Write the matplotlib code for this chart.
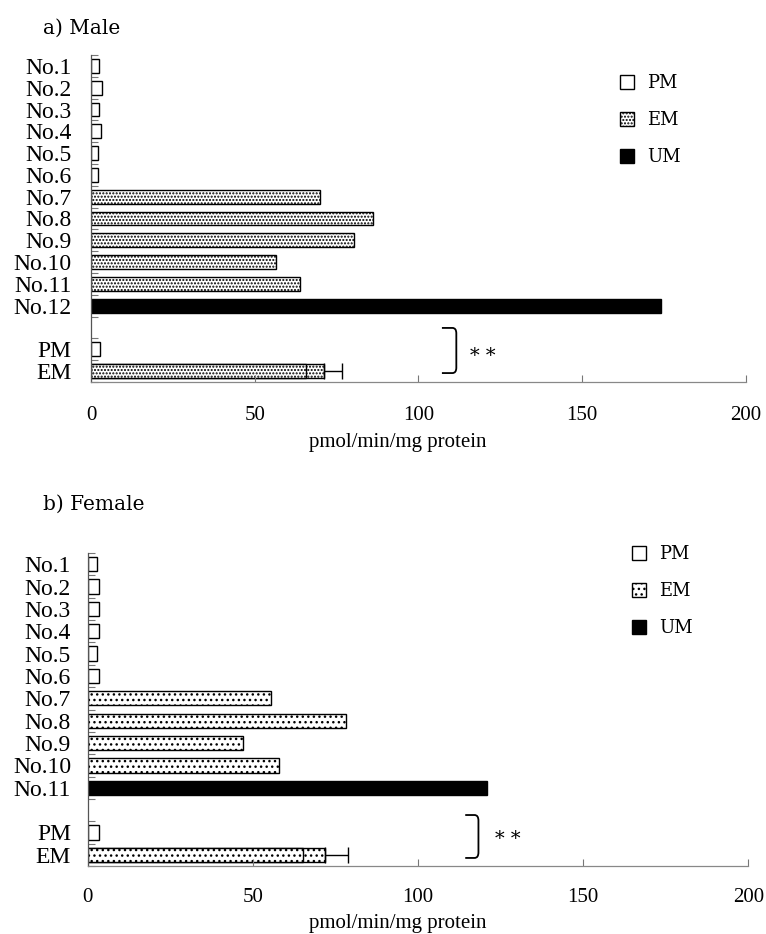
import matplotlib
matplotlib.use("Agg")
import matplotlib.pyplot as plt
import matplotlib.patches as mpatches
from matplotlib.path import Path
import numpy as np

# ---------------- data ----------------
male_labels = ["No.1", "No.2", "No.3", "No.4", "No.5", "No.6", "No.7", "No.8",
               "No.9", "No.10", "No.11", "No.12", "", "PM", "EM"]
male_values = [2.5, 3.5, 2.5, 3.0, 2.0, 2.0, 70.0, 86.0, 80.2, 56.4, 63.7, 174.0]
male_groups = ["PM", "PM", "PM", "PM", "PM", "PM", "EM", "EM", "EM", "EM", "EM", "UM"]
male_pm_mean = 2.7
male_em_mean = 71.3
male_em_inner = 65.7
male_em_err = 5.4

female_labels = ["No.1", "No.2", "No.3", "No.4", "No.5", "No.6", "No.7", "No.8",
                 "No.9", "No.10", "No.11", "", "PM", "EM"]
female_values = [2.7, 3.5, 3.5, 3.5, 2.7, 3.5, 55.5, 78.2, 47.0, 57.8, 121.0]
female_groups = ["PM", "PM", "PM", "PM", "PM", "PM", "EM", "EM", "EM", "EM", "UM"]
female_pm_mean = 3.3
female_em_mean = 71.7
female_em_inner = 65.3
female_em_err = 7.0

xticks = [0, 50, 100, 150, 200]
xlabel = "pmol/min/mg protein"
legend_labels = ["PM", "EM", "UM"]

W, H = 766, 934
fig = plt.figure(figsize=(W / 100, H / 100), dpi=100)

SERIF = ["Liberation Serif", "DejaVu Serif"]
TSERIF = ["DejaVu Serif"]


def px_axes(l, r, t, b):
    return fig.add_axes([l / W, 1 - b / H, (r - l) / W, (b - t) / H])


def style(group, hatch):
    if group == "PM":
        return dict(facecolor="white", edgecolor="black", hatch=None)
    if group == "EM":
        return dict(facecolor="white", edgecolor="black", hatch=hatch)
    return dict(facecolor="black", edgecolor="black", hatch=None)


def bracket(ax, x0, x1, yt, yb, d=1.2, dy=0.25):
    verts = [(x0, yt), (x1 - d, yt), (x1, yt), (x1, yt + dy),
             (x1, yb - dy), (x1, yb), (x1 - d, yb), (x0, yb)]
    codes = [Path.MOVETO, Path.LINETO, Path.CURVE3, Path.CURVE3,
             Path.LINETO, Path.CURVE3, Path.CURVE3, Path.LINETO]
    ax.add_patch(mpatches.PathPatch(Path(verts, codes), fill=False,
                                    edgecolor="black", lw=1.3))


def panel(ax, labels, values, groups, pm_mean, em_mean, em_inner, em_err,
          hatch, ypad, xpad, label_xy, br, stars):
    n = len(labels)
    bh = 0.64
    for i, (v, g) in enumerate(zip(values, groups)):
        ax.barh(i, v, height=bh, linewidth=1.0, **style(g, hatch))
    ipm = n - 2
    iem = n - 1
    ax.barh(ipm, pm_mean, height=bh, linewidth=1.0, **style("PM", hatch))
    ax.barh(iem, em_mean, height=bh, linewidth=1.0,
            xerr=[[0], [em_err]], error_kw=dict(ecolor="black", elinewidth=1.0,
                                                capsize=6, capthick=1.0),
            **style("EM", hatch))
    ax.barh(iem, em_inner, height=bh, linewidth=1.0, **style("EM", hatch))

    ax.set_ylim(n - 0.5, -0.5)
    ax.set_xlim(0, 200)
    ax.set_yticks(range(n))
    ax.set_yticklabels(labels, family=SERIF, fontsize=17)
    ax.set_yticks(np.arange(-0.5, n, 1.0), minor=True)
    ax.tick_params(axis="y", which="major", length=0, pad=ypad)
    ax.tick_params(axis="y", which="minor", direction="in", length=5,
                   width=0.8, color="#777777")
    ax.set_xticks(xticks)
    ax.set_xticklabels([str(t) for t in xticks], family=SERIF, fontsize=15)
    ax.tick_params(axis="x", direction="in", length=5, width=0.8,
                   color="#777777", pad=xpad)
    for s in ("top", "right"):
        ax.spines[s].set_visible(False)
    ax.spines["left"].set_color("#555555")
    ax.spines["bottom"].set_color("#888888")
    ax.spines["left"].set_linewidth(0.9)
    ax.spines["bottom"].set_linewidth(0.9)
    ax.set_xlabel(xlabel, family=SERIF, fontsize=15)
    ax.xaxis.set_label_coords(*label_xy)
    bracket(ax, *br)
    ax.text(stars[0], stars[1], "* *", family=TSERIF, fontsize=14,
            ha="left", va="center")


ax1 = px_axes(91, 745.7, 55, 382)
panel(ax1, male_labels, male_values, male_groups, male_pm_mean, male_em_mean,
      male_em_inner, male_em_err, ".....", 14, 17, (0.468, -0.155),
      (107.2, 111.6, 12.02, 14.09), (115.9, 13.3))

ax2 = px_axes(87.7, 748.3, 553, 866)
panel(ax2, female_labels, female_values, female_groups, female_pm_mean,
      female_em_mean, female_em_inner, female_em_err, "...", 12, 16,
      (0.469, -0.152), (114.3, 118.3, 11.22, 13.14), (123.4, 12.3))

fig.text(43 / W, 1 - 28 / H, "a) Male", family=TSERIF, fontsize=14.5,
         ha="left", va="center")
fig.text(43 / W, 1 - 504 / H, "b) Female", family=TSERIF, fontsize=14.5,
         ha="left", va="center")


def legend(ax, hatch, x, y):
    handles = [mpatches.Patch(linewidth=1.0, **style(g, hatch)) for g in legend_labels]
    ax.legend(handles, legend_labels, loc="upper left",
              bbox_to_anchor=(x / W, 1 - y / H), bbox_transform=fig.transFigure,
              frameon=False, borderpad=0, borderaxespad=0, handlelength=0.8,
              handleheight=0.8, handletextpad=0.7, labelspacing=1.05,
              prop=dict(family=TSERIF, size=13))


legend(ax1, ".....", 620, 74.5)
legend(ax2, "...", 631.7, 545)

fig.savefig("out.png", dpi=100)
